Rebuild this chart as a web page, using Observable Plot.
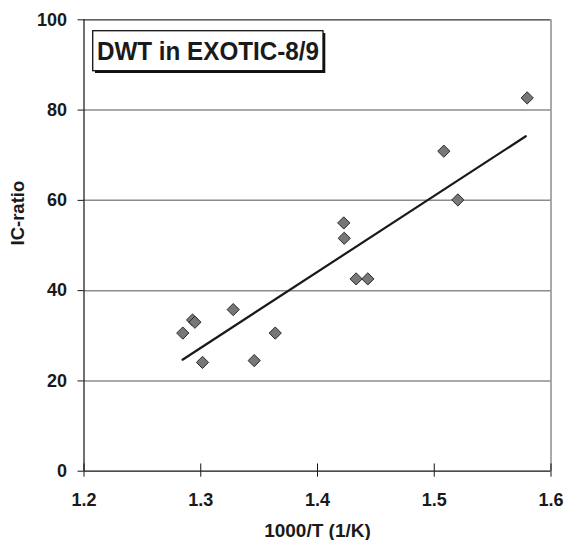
<!DOCTYPE html>
<html><head><meta charset="utf-8">
<script src="https://cdn.jsdelivr.net/npm/d3@7"></script>
<script src="https://cdn.jsdelivr.net/npm/@observablehq/plot@0.6"></script>
<style>body{margin:0;background:#fff;} #chart{width:567px;height:540px;}</style>
</head><body><div id="chart"></div>
<script>
const invT    = [1.2846, 1.2930, 1.2950, 1.3278, 1.3015, 1.3638, 1.3458, 1.4225, 1.4229, 1.4331, 1.4431, 1.5082, 1.5202, 1.5796];
const icRatio = [30.6,   33.5,   33.0,   35.8,   24.1,   30.6,   24.5,   55.0,   51.6,   42.6,   42.6,   70.9,   60.1,   82.7];
const trendX = [1.2844, 1.5784];
const trendY = [24.7, 74.2];
const xTicks = [1.2, 1.3, 1.4, 1.5, 1.6];
const yTicks = [0, 20, 40, 60, 80, 100];
const gridY = [20, 40, 60, 80];
const title = "DWT in EXOTIC-8/9";
const xLabel = "1000/T (1/K)";
const yLabel = "IC-ratio";

const points = invT.map((x, i) => ({x, y: icRatio[i]}));
const trend = trendX.map((x, i) => ({x, y: trendY[i]}));

const plot = Plot.plot({
  width: 567, height: 540,
  marginLeft: 83.5, marginRight: 16.5, marginTop: 19.3, marginBottom: 69.3,
  style: {fontFamily: "'Liberation Sans', Arial, sans-serif", fontSize: "18px", fontWeight: "bold", color: "#1a1a1a", background: "#fff"},
  x: {domain: [1.2, 1.6]},
  y: {domain: [0, 100]},
  marks: [
    Plot.ruleY(gridY, {stroke: "#8c8c8c", strokeWidth: 1.5}),
    Plot.ruleY([100], {stroke: "#333", strokeWidth: 1.2}),
    Plot.ruleX([1.6], {stroke: "#8c8c8c", strokeWidth: 1.5}),
    Plot.ruleX([1.2], {stroke: "#111", strokeWidth: 1.2}),
    Plot.ruleY([0], {stroke: "#111", strokeWidth: 1.2}),
    Plot.axisX({ticks: xTicks, tickSize: 6, tickPadding: 16, tickFormat: d => d.toFixed(1), label: null, fontSize: 18, fontWeight: "bold"}),
    Plot.ruleX(xTicks, {y1: 0, y2: 1.6, stroke: "#111"}),
    Plot.axisY({ticks: yTicks, tickSize: 6, tickPadding: 11, label: null, fontSize: 18, fontWeight: "bold"}),
    Plot.line(trend, {x: "x", y: "y", stroke: "#1a1a1a", strokeWidth: 2.2}),
    Plot.dot(points, {x: "x", y: "y", symbol: "diamond2", r: 5.5, fill: "#777", stroke: "#2a2a2a", strokeWidth: 1}),
    Plot.text([xLabel], {frameAnchor: "bottom", dy: 60, text: d => d, lineAnchor: "middle", fontSize: 19, fontWeight: "bold"}),
    Plot.text([yLabel], {frameAnchor: "left", dx: -65.5, rotate: -90, text: d => d, lineAnchor: "middle", fontSize: 18.5, fontWeight: "bold"})
  ]
});

const svg = d3.select(plot);
const g = svg.append("g");
g.append("rect").attr("x", 95).attr("y", 33).attr("width", 230.3).attr("height", 40).attr("fill", "#111");
g.append("rect").attr("x", 92.7).attr("y", 30.7).attr("width", 230.3).attr("height", 40)
  .attr("fill", "#fff").attr("stroke", "#111").attr("stroke-width", 1.3);
g.append("text").attr("x", 208).attr("y", 51).attr("dy", "0.35em").attr("text-anchor", "middle")
  .attr("font-size", 25).attr("font-weight", "bold").attr("fill", "#1a1a1a")
  .attr("textLength", 222).attr("lengthAdjust", "spacingAndGlyphs").text(title);

document.getElementById("chart").appendChild(plot);
</script>
</body></html>
